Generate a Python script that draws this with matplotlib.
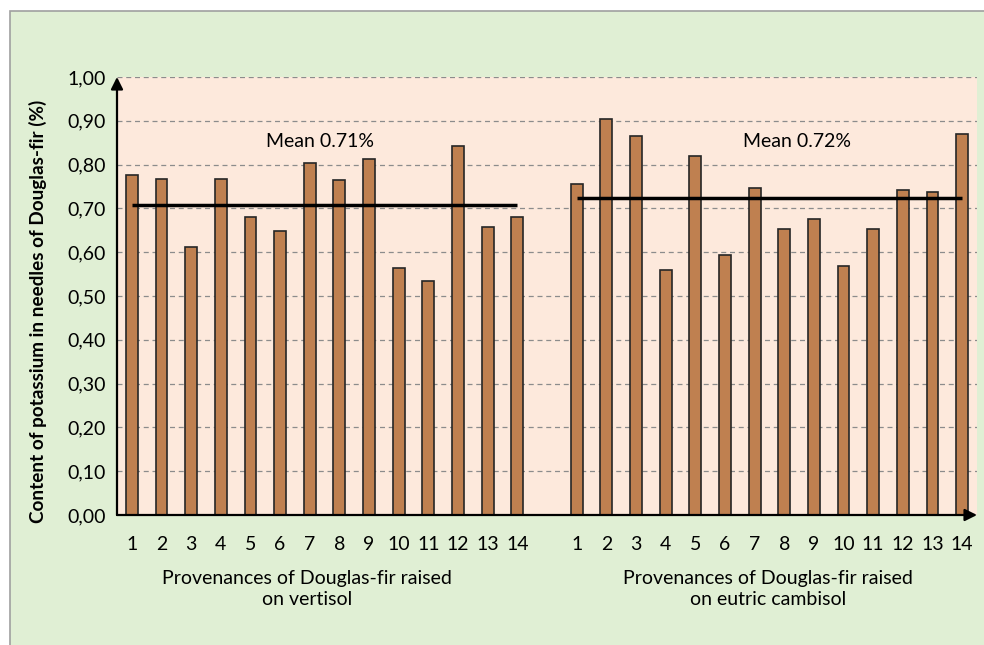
import numpy as np
import matplotlib
matplotlib.use("Agg")
import matplotlib.pyplot as plt
from matplotlib.patches import Rectangle

plt.rcParams['font.family'] = ['Lato', 'DejaVu Sans']

# potassium content (%)
vertisol = [0.777, 0.766, 0.613, 0.768, 0.680, 0.649, 0.804, 0.765,
            0.813, 0.564, 0.534, 0.842, 0.657, 0.680]
cambisol = [0.756, 0.905, 0.865, 0.559, 0.820, 0.593, 0.747, 0.652,
            0.675, 0.568, 0.654, 0.741, 0.738, 0.869]
provenances = [str(i) for i in range(1, 15)]
group_labels = ["Provenances of Douglas-fir raised\non vertisol",
                "Provenances of Douglas-fir raised\non eutric cambisol"]
y_ticks = [0.0, 0.1, 0.2, 0.3, 0.4, 0.5, 0.6, 0.7, 0.8, 0.9, 1.0]

green = '#e0efd4'
peach = '#fde9dc'
bar_color = '#bf8050'

fig = plt.figure(figsize=(9.84, 6.45), dpi=100, facecolor='white')
# green panel with gray border on top/left
fig.patches.append(Rectangle((9.5 / 984, -0.02), 1.1, 1 - 11 / 645 + 0.02,
                             transform=fig.transFigure, facecolor=green,
                             edgecolor='#a0a0a0', linewidth=1.2, zorder=-10))

ax = fig.add_axes([117 / 984, 1 - 515 / 645, 860 / 984, 438 / 645])
ax.set_facecolor(peach)

x_left = np.arange(len(vertisol))
x_right = np.arange(len(cambisol)) + len(vertisol) + 1

ax.bar(x_left, vertisol, width=0.4, color=bar_color, edgecolor='#262626',
       linewidth=1.2, zorder=3)
ax.bar(x_right, cambisol, width=0.4, color=bar_color, edgecolor='#262626',
       linewidth=1.2, zorder=3)

mean_l = np.mean(vertisol)
mean_r = np.mean(cambisol)
ax.hlines(mean_l, x_left[0], x_left[-1], color='black', linewidth=2.5, zorder=4)
ax.hlines(mean_r, x_right[0], x_right[-1], color='black', linewidth=2.5, zorder=4)
ax.text(6.34, 0.852, f"Mean {mean_l:.2f}%", ha='center', va='center', fontsize=14)
ax.text(22.43, 0.852, f"Mean {mean_r:.2f}%", ha='center', va='center', fontsize=14)

ax.set_xlim(-0.5, 28.5)
ax.set_ylim(0, 1.0)
ax.set_yticks(y_ticks)
ax.set_yticklabels([f"{v:.2f}".replace('.', ',') for v in y_ticks], fontsize=14)
ax.set_xticks(list(x_left) + list(x_right))
ax.set_xticklabels(provenances + provenances, fontsize=14)
ax.tick_params(axis='x', length=0, pad=15)
ax.tick_params(axis='y', length=0, pad=8)

ax.grid(axis='y', color='#8c8c8c', linestyle=(0, (4, 3)), linewidth=0.9, zorder=1)
for s in ax.spines.values():
    s.set_visible(False)

# axis arrows
ax.annotate('', xy=(28.5, 0), xytext=(-0.5, 0), xycoords='data',
            arrowprops=dict(arrowstyle='-|>', color='black', lw=1.6,
                            mutation_scale=18, shrinkA=0, shrinkB=0),
            annotation_clip=False, zorder=5)
ax.annotate('', xy=(-0.5, 1.0), xytext=(-0.5, 0), xycoords='data',
            arrowprops=dict(arrowstyle='-|>', color='black', lw=1.6,
                            mutation_scale=18, shrinkA=0, shrinkB=0),
            annotation_clip=False, zorder=5)

fig.text(307 / 984, 1 - 589 / 645, group_labels[0], ha='center', va='center',
         fontsize=14, linespacing=1.35)
fig.text(768 / 984, 1 - 589 / 645, group_labels[1], ha='center', va='center',
         fontsize=14, linespacing=1.35)
fig.text(38 / 984, 1 - 311 / 645, "Content of potassium in needles of Douglas-fir (%)",
         rotation=90, ha='center', va='center', fontsize=13.6, fontweight='bold')

fig.savefig('out.png', dpi=100, facecolor=fig.get_facecolor())
